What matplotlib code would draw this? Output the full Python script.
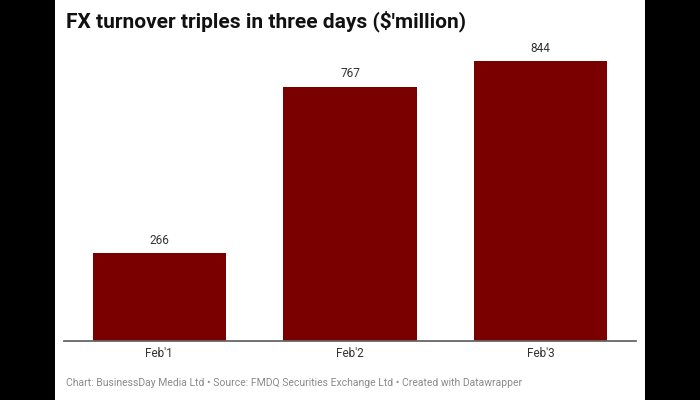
import matplotlib
matplotlib.use('Agg')
import matplotlib.pyplot as plt
from matplotlib.patches import Rectangle
import numpy as np

# Данные
days = ["Feb'1", "Feb'2", "Feb'3"]
turnover = [266, 767, 844]

bar_color = '#7a0000'

plt.rcParams['font.family'] = ['Roboto', 'DejaVu Sans']

fig = plt.figure(figsize=(7, 4), dpi=100, facecolor='black')
# белая область графика (по бокам чёрные поля)
fig.patches.append(Rectangle((55 / 700, 0), 590 / 700, 1, transform=fig.transFigure,
                             facecolor='white', edgecolor='none', zorder=-5))

ax = fig.add_axes([64 / 700, 1 - 341 / 400, 572 / 700, 280 / 400])
ax.set_facecolor('none')
ax.set_zorder(2)

x = np.arange(len(days))
bars = ax.bar(x, turnover, width=0.7, color=bar_color, zorder=2)
ax.set_xlim(-0.5, len(days) - 0.5)
ax.set_ylim(0, max(turnover))

for b, v in zip(bars, turnover):
    ax.annotate(f'{v}', (b.get_x() + b.get_width() / 2, v), xytext=(0, 4.5),
                textcoords='offset points', ha='center', va='bottom',
                fontsize=8.5, color='#333333', annotation_clip=False)

for s in ['top', 'right', 'left']:
    ax.spines[s].set_visible(False)
ax.spines['bottom'].set_color('#666666')
ax.spines['bottom'].set_linewidth(1.3)
ax.spines['bottom'].set_zorder(3)
ax.set_yticks([])
ax.set_xticks(x)
ax.set_xticklabels(days, fontsize=8.5, color='#333333')
ax.tick_params(axis='x', length=0, pad=4.5)

fig.text(66 / 700, 1 - 21 / 400, "FX turnover triples in three days ($'million)",
         fontsize=15, fontweight='bold', color='#111111', va='center', ha='left')
fig.text(66 / 700, 1 - 383 / 400,
         "Chart: BusinessDay Media Ltd \u2022 Source: FMDQ Securities Exchange Ltd \u2022 Created with Datawrapper",
         fontsize=7.5, color='#8a8a8a', va='center', ha='left')

fig.savefig('out.png', dpi=100, facecolor=fig.get_facecolor())
